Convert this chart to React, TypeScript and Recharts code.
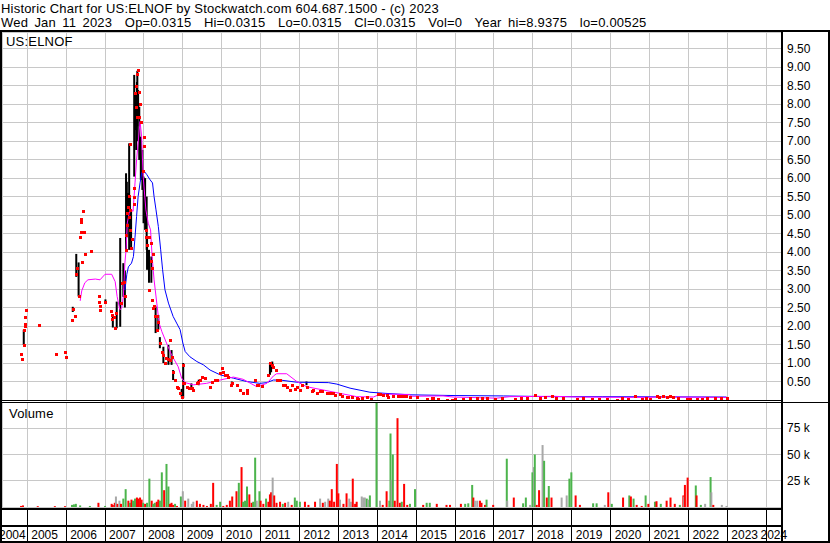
import React from "react";
import { Bar, CartesianGrid, ComposedChart, Line, Scatter, XAxis, YAxis } from "recharts";

const FONT = "'Liberation Sans', Arial, Helvetica, sans-serif";
const X_START = 2004.35;
const X_END = 2024.406;

const titleLine = "Historic Chart for US:ELNOF by Stockwatch.com 604.687.1500 - (c) 2023";
const quoteLine = "Wed Jan 11 2023  Op=0.0315  Hi=0.0315  Lo=0.0315  Cl=0.0315  Vol=0  Year hi=8.9375  lo=0.00525";
const symbolLabel = "US:ELNOF";
const volumeLabel = "Volume";

const yearTicks = [2005, 2006, 2007, 2008, 2009, 2010, 2011, 2012, 2013, 2014, 2015, 2016, 2017, 2018, 2019, 2020, 2021, 2022, 2023, 2024];
const priceTicks = [0.5, 1, 1.5, 2, 2.5, 3, 3.5, 4, 4.5, 5, 5.5, 6, 6.5, 7, 7.5, 8, 8.5, 9, 9.5];
const volumeTicks = [25, 50, 75];

// [time, low, high]
const priceRanges = [
  [2004.91, 1.49, 1.9], [2006.17, 2.38, 2.52], [2006.26, 3.33, 3.95], [2006.32, 2.8, 3.72],
  [2007.01, 2.6, 2.72], [2007.2, 1.96, 2.3], [2007.3, 1.94, 2.66], [2007.39, 1.98, 4.38],
  [2007.47, 2.79, 3.7], [2007.51, 2.5, 3.5], [2007.54, 4.06, 6.13], [2007.56, 4.4, 5.9],
  [2007.59, 4.78, 5.6], [2007.62, 4.06, 6.94], [2007.64, 4.3, 5.5], [2007.67, 4.06, 5.14],
  [2007.75, 6.04, 8.79], [2007.77, 7.3, 8.3], [2007.8, 6.76, 8.03], [2007.82, 7.0, 8.6],
  [2007.83, 7.4, 8.9], [2007.85, 7.66, 8.38], [2007.88, 6.49, 7.93], [2007.92, 5.95, 7.12],
  [2007.96, 5.68, 6.76], [2007.99, 4.78, 6.04], [2008.03, 4.6, 6.0], [2008.07, 4.06, 5.5],
  [2008.08, 3.52, 4.42], [2008.13, 3.17, 4.06], [2008.19, 3.17, 3.88], [2008.3, 1.81, 2.53],
  [2008.37, 1.9, 2.3], [2008.41, 1.4, 1.7], [2008.5, 1.0, 1.44], [2008.63, 0.95, 1.49],
  [2008.71, 0.95, 1.35], [2008.75, 0.54, 0.81], [2008.97, 0.09, 0.3], [2009.01, 0.05, 1.0],
  [2009.22, 0.3, 0.45], [2009.41, 0.4, 0.55], [2010.26, 0.4, 0.5], [2011.24, 0.68, 1.0],
  [2011.27, 0.75, 0.97], [2011.3, 0.86, 1.04], [2012.18, 0.4, 0.5]
];

// [time, close]
const closes = [
  [2004.84, 1.25], [2004.86, 1.12], [2004.91, 1.49], [2004.92, 1.9], [2004.93, 2.06], [2004.94, 2.0],
  [2004.95, 2.25], [2004.97, 2.43], [2005.3, 2.03], [2005.73, 1.25], [2005.96, 1.3], [2005.99, 1.17],
  [2006.14, 2.17], [2006.17, 2.45], [2006.22, 2.27], [2006.26, 3.4], [2006.27, 3.57], [2006.32, 2.8],
  [2006.35, 4.42], [2006.37, 4.55], [2006.37, 4.9], [2006.38, 4.8], [2006.4, 3.74], [2006.42, 5.11],
  [2006.45, 4.54], [2006.48, 3.95], [2006.64, 4.04], [2006.84, 2.8], [2006.85, 2.65], [2006.86, 2.55],
  [2006.87, 2.44], [2007.01, 2.65], [2007.15, 2.4], [2007.17, 2.2], [2007.19, 2.3], [2007.22, 2.25],
  [2007.25, 1.95], [2007.28, 2.35], [2007.4, 2.62], [2007.44, 3.17], [2007.48, 3.2], [2007.51, 2.8],
  [2007.54, 4.06], [2007.55, 4.47], [2007.56, 4.73], [2007.57, 5.05], [2007.59, 5.23], [2007.61, 4.96],
  [2007.62, 5.52], [2007.63, 4.6], [2007.64, 5.14], [2007.65, 6.92], [2007.67, 4.1], [2007.7, 4.35],
  [2007.74, 5.3], [2007.74, 5.5], [2007.75, 5.73], [2007.76, 8.3], [2007.79, 8.49], [2007.8, 7.92],
  [2007.81, 7.66], [2007.82, 8.82], [2007.84, 8.93], [2007.87, 8.34], [2007.88, 7.66], [2007.91, 8.0],
  [2007.92, 7.51], [2007.97, 6.18], [2007.99, 7.12], [2007.99, 6.87], [2008.05, 4.6], [2008.06, 4.42],
  [2008.08, 4.19], [2008.13, 4.42], [2008.13, 2.98], [2008.18, 4.24], [2008.18, 3.77], [2008.21, 3.57],
  [2008.23, 3.95], [2008.23, 2.49], [2008.2, 2.71], [2008.27, 2.53], [2008.29, 2.26], [2008.33, 2.26],
  [2008.34, 1.9], [2008.37, 2.12], [2008.41, 1.54], [2008.46, 1.31], [2008.5, 1.22], [2008.54, 1.0],
  [2008.57, 1.13], [2008.62, 1.1], [2008.67, 1.63], [2008.67, 1.08], [2008.71, 1.17], [2008.75, 0.77],
  [2008.8, 0.54], [2008.84, 0.36], [2008.88, 0.32], [2008.93, 0.18], [2008.97, 0.09], [2009.0, 0.45],
  [2009.01, 0.95], [2009.02, 0.45], [2009.1, 0.36], [2009.16, 0.32], [2009.23, 0.32], [2009.26, 0.27],
  [2009.36, 0.45], [2009.4, 0.5], [2009.44, 0.54], [2009.48, 0.63], [2009.57, 0.59], [2009.7, 0.36],
  [2009.74, 0.5], [2009.83, 0.54], [2009.87, 0.54], [2009.96, 0.74], [2010.0, 0.86], [2010.03, 0.77],
  [2010.08, 0.68], [2010.14, 0.68], [2010.17, 0.63], [2010.23, 0.41], [2010.26, 0.45], [2010.38, 0.41],
  [2010.47, 0.27], [2010.55, 0.18], [2010.64, 0.2], [2010.65, 0.27], [2010.86, 0.54], [2010.91, 0.41],
  [2010.94, 0.41], [2011.03, 0.38], [2011.19, 0.68], [2011.2, 0.68], [2011.24, 1.0], [2011.28, 0.95],
  [2011.33, 0.9], [2011.39, 0.81], [2011.41, 0.54], [2011.5, 0.54], [2011.58, 0.41], [2011.63, 0.41],
  [2011.67, 0.36], [2011.75, 0.27], [2011.8, 0.41], [2011.88, 0.3], [2011.93, 0.35], [2012.01, 0.27],
  [2012.06, 0.41], [2012.18, 0.36], [2012.31, 0.23], [2012.35, 0.27], [2012.45, 0.2], [2012.53, 0.23],
  [2012.57, 0.23], [2012.7, 0.18], [2012.78, 0.18], [2012.87, 0.2], [2012.91, 0.14], [2013.04, 0.16],
  [2013.1, 0.12], [2013.21, 0.09], [2013.25, 0.09], [2013.35, 0.08], [2013.47, 0.05], [2013.51, 0.03],
  [2013.6, 0.06], [2013.73, 0.07], [2013.85, 0.03], [2014.03, 0.16], [2014.07, 0.16], [2014.15, 0.14],
  [2014.24, 0.14], [2014.28, 0.09], [2014.4, 0.12], [2014.54, 0.11], [2014.6, 0.1], [2014.67, 0.11],
  [2014.75, 0.1], [2014.84, 0.09], [2015.01, 0.09], [2015.27, 0.03], [2015.4, 0.05], [2015.44, 0.05],
  [2015.57, 0.03], [2015.78, 0.01], [2015.91, 0.01], [2016.0, 0.04], [2016.21, 0.02], [2016.38, 0.05],
  [2016.56, 0.05], [2016.7, 0.06], [2016.81, 0.05], [2017.03, 0.02], [2017.2, 0.05], [2017.54, 0.03],
  [2017.7, 0.06], [2017.84, 0.05], [2018.06, 0.14], [2018.18, 0.05], [2018.3, 0.07], [2018.48, 0.12],
  [2018.6, 0.06], [2018.78, 0.05], [2019.13, 0.03], [2019.3, 0.05], [2019.51, 0.03], [2019.7, 0.04],
  [2019.9, 0.02], [2020.16, 0.01], [2020.3, 0.05], [2020.45, 0.02], [2020.63, 0.11], [2020.8, 0.03],
  [2020.9, 0.05], [2021.01, 0.03], [2021.18, 0.11], [2021.25, 0.08], [2021.35, 0.11], [2021.45, 0.09],
  [2021.53, 0.11], [2021.6, 0.08], [2021.74, 0.05], [2021.96, 0.03], [2022.05, 0.04], [2022.21, 0.03],
  [2022.35, 0.04], [2022.47, 0.05], [2022.68, 0.05], [2022.85, 0.05], [2022.98, 0.05]
];

// [time, short moving average]
const ma50 = [
  [2006.36, 2.68], [2006.4, 2.95], [2006.48, 3.17], [2006.56, 3.25], [2006.75, 3.27], [2006.87, 3.25],
  [2007.0, 3.4], [2007.17, 3.4], [2007.26, 3.2], [2007.31, 2.8], [2007.38, 2.44], [2007.43, 2.49],
  [2007.47, 2.8], [2007.51, 3.7], [2007.54, 4.06], [2007.57, 4.78], [2007.62, 5.05], [2007.68, 5.14],
  [2007.72, 5.1], [2007.77, 5.87], [2007.81, 6.49], [2007.85, 6.95], [2007.9, 7.53], [2007.94, 7.12],
  [2007.98, 6.04], [2008.05, 5.14], [2008.11, 4.78], [2008.17, 4.6], [2008.21, 3.88], [2008.26, 3.25],
  [2008.33, 2.62], [2008.39, 2.08], [2008.46, 1.85], [2008.58, 1.54], [2008.71, 1.22], [2008.88, 0.9],
  [2008.97, 0.59], [2009.06, 0.47], [2009.27, 0.41], [2009.61, 0.45], [2009.96, 0.54], [2010.3, 0.62],
  [2010.55, 0.56], [2010.9, 0.36], [2011.16, 0.45], [2011.33, 0.65], [2011.41, 0.71], [2011.67, 0.71],
  [2011.93, 0.5], [2012.18, 0.36], [2012.61, 0.27], [2013.04, 0.18], [2013.47, 0.09], [2013.9, 0.08],
  [2014.07, 0.16], [2014.84, 0.15], [2014.88, 0.1], [2015.69, 0.11], [2015.95, 0.08], [2017.07, 0.05],
  [2017.41, 0.09], [2018.52, 0.1], [2019.13, 0.08], [2020.67, 0.07], [2021.53, 0.08], [2022.98, 0.07]
];

// [time, long moving average]
const ma200 = [
  [2007.51, 2.97], [2007.56, 3.4], [2007.6, 3.6], [2007.68, 3.7], [2007.73, 3.88], [2007.77, 4.4],
  [2007.81, 4.96], [2007.85, 5.5], [2007.9, 5.87], [2007.94, 6.13], [2007.98, 6.22], [2008.07, 6.1],
  [2008.16, 5.95], [2008.22, 5.87], [2008.26, 5.5], [2008.31, 5.14], [2008.37, 4.69], [2008.43, 4.06],
  [2008.48, 3.52], [2008.54, 2.98], [2008.63, 2.62], [2008.75, 2.26], [2008.84, 2.08], [2008.93, 1.9],
  [2009.0, 1.54], [2009.06, 1.31], [2009.18, 1.17], [2009.36, 1.04], [2009.53, 0.95], [2009.7, 0.81],
  [2009.96, 0.68], [2010.3, 0.59], [2010.64, 0.5], [2010.98, 0.45], [2011.16, 0.47], [2011.33, 0.54],
  [2011.5, 0.54], [2011.93, 0.48], [2012.74, 0.47], [2012.96, 0.43], [2013.3, 0.32], [2013.81, 0.21],
  [2014.2, 0.18], [2014.84, 0.14], [2016.0, 0.12], [2017.24, 0.11], [2018.52, 0.09], [2019.8, 0.09],
  [2022.98, 0.08]
];

// [time, volume in thousands, u = up day, d = down day, n = unchanged]
const volumes = [
  [2004.84, 1, "d"], [2004.89, 1.5, "d"], [2005.27, 0.8, "d"], [2005.71, 0.8, "d"], [2005.97, 0.8, "d"],
  [2006.15, 2, "u"], [2006.2, 2.5, "u"], [2006.25, 3, "u"], [2006.36, 1.5, "u"], [2006.61, 1, "u"],
  [2006.83, 4, "d"], [2007.0, 1, "u"], [2007.17, 3, "d"], [2007.2, 2, "d"], [2007.25, 4, "d"],
  [2007.28, 10, "n"], [2007.32, 3, "d"], [2007.37, 6, "n"], [2007.41, 3, "d"], [2007.47, 8, "u"],
  [2007.53, 17, "u"], [2007.6, 6, "d"], [2007.64, 4, "u"], [2007.68, 7, "d"], [2007.72, 6, "u"],
  [2007.77, 8, "u"], [2007.82, 9, "d"], [2007.85, 8, "d"], [2007.9, 9, "d"], [2007.94, 7, "d"],
  [2007.98, 4, "u"], [2008.03, 3, "d"], [2008.08, 4, "u"], [2008.14, 27, "u"], [2008.2, 6, "d"],
  [2008.24, 3, "u"], [2008.28, 4, "u"], [2008.33, 5, "d"], [2008.37, 7, "d"], [2008.41, 6, "u"],
  [2008.46, 33, "u"], [2008.52, 16, "d"], [2008.58, 41, "u"], [2008.63, 19.5, "u"], [2008.67, 3, "d"],
  [2008.71, 4, "d"], [2008.75, 2, "d"], [2008.8, 3, "u"], [2008.85, 1, "d"], [2008.95, 10, "u"],
  [2009.0, 15, "n"], [2009.06, 6, "d"], [2009.14, 8, "n"], [2009.23, 3, "n"], [2009.27, 5, "n"],
  [2009.36, 6, "d"], [2009.44, 3, "d"], [2009.53, 2, "d"], [2009.62, 1, "d"], [2009.72, 3, "d"],
  [2009.78, 23, "d"], [2009.87, 2, "u"], [2009.96, 5, "u"], [2010.04, 1, "d"], [2010.13, 2, "d"],
  [2010.21, 6, "d"], [2010.27, 10, "d"], [2010.38, 15, "d"], [2010.44, 23, "u"], [2010.51, 38, "d"],
  [2010.55, 5, "u"], [2010.6, 6, "u"], [2010.65, 19.5, "u"], [2010.71, 12, "d"], [2010.77, 4, "d"],
  [2010.81, 5, "u"], [2010.86, 47, "u"], [2010.9, 6, "n"], [2010.97, 15, "u"], [2011.0, 6, "d"],
  [2011.07, 3, "d"], [2011.14, 8, "u"], [2011.2, 5, "d"], [2011.24, 12, "d"], [2011.27, 14, "d"],
  [2011.31, 28, "n"], [2011.35, 11, "d"], [2011.41, 4, "d"], [2011.5, 5, "d"], [2011.57, 3, "u"],
  [2011.63, 4, "d"], [2011.71, 5, "n"], [2011.8, 2, "d"], [2011.88, 9, "u"], [2011.93, 6, "u"],
  [2012.01, 5, "u"], [2012.14, 5, "d"], [2012.23, 2, "d"], [2012.4, 5, "d"], [2012.53, 8, "n"],
  [2012.6, 4, "d"], [2012.66, 5, "n"], [2012.74, 8, "n"], [2012.78, 6, "d"], [2012.83, 17, "d"],
  [2012.89, 5, "d"], [2012.96, 41, "d"], [2013.0, 13, "d"], [2013.04, 7, "n"], [2013.13, 3, "d"],
  [2013.21, 13, "d"], [2013.28, 8, "n"], [2013.32, 5, "n"], [2013.37, 27, "d"], [2013.43, 3, "d"],
  [2013.47, 5, "d"], [2013.6, 10, "n"], [2013.64, 9, "n"], [2013.68, 9, "n"], [2013.73, 8, "u"],
  [2013.77, 7, "n"], [2013.81, 11, "u"], [2013.98, 110, "u"], [2014.07, 6, "n"], [2014.14, 2, "d"],
  [2014.24, 15, "d"], [2014.31, 6, "u"], [2014.34, 70, "u"], [2014.37, 26, "n"], [2014.4, 50, "u"],
  [2014.45, 6, "d"], [2014.52, 84.6, "d"], [2014.58, 4, "d"], [2014.63, 5, "u"], [2014.69, 22, "d"],
  [2014.77, 2, "d"], [2014.84, 3, "u"], [2014.97, 17, "u"], [2015.18, 2, "d"], [2015.27, 4, "u"],
  [2015.35, 4, "u"], [2015.53, 3, "d"], [2015.78, 2, "d"], [2015.87, 2, "d"], [2016.15, 3, "d"],
  [2016.26, 3, "u"], [2016.34, 3.5, "u"], [2016.44, 21, "u"], [2016.47, 9, "d"], [2016.51, 6, "n"],
  [2016.57, 6, "n"], [2016.64, 6, "d"], [2016.68, 4, "d"], [2016.77, 2, "d"], [2016.81, 7, "u"],
  [2016.98, 2, "d"], [2017.33, 46, "u"], [2017.34, 6, "n"], [2017.51, 9, "d"], [2017.75, 3.5, "u"],
  [2017.82, 9, "u"], [2017.93, 2, "n"], [2017.99, 33, "u"], [2018.03, 38, "n"], [2018.05, 50, "u"],
  [2018.1, 2, "d"], [2018.16, 16, "d"], [2018.25, 59, "n"], [2018.29, 44, "u"], [2018.36, 9, "d"],
  [2018.41, 20, "u"], [2018.48, 9, "d"], [2018.74, 9, "n"], [2018.87, 11, "n"], [2018.94, 27, "u"],
  [2018.99, 33, "u"], [2019.1, 11, "d"], [2019.21, 2, "d"], [2019.55, 3.5, "u"], [2019.64, 3.5, "u"],
  [2019.85, 2, "n"], [2019.94, 14, "d"], [2020.03, 3, "u"], [2020.32, 9, "d"], [2020.48, 11, "u"],
  [2020.52, 10, "d"], [2020.59, 8, "u"], [2020.67, 2, "d"], [2020.8, 1, "d"], [2020.9, 11, "u"],
  [2020.97, 3, "d"], [2021.14, 5, "u"], [2021.18, 5.5, "d"], [2021.29, 3, "u"], [2021.44, 6, "d"],
  [2021.54, 9, "d"], [2021.65, 3, "d"], [2021.78, 2, "u"], [2021.87, 11, "d"], [2021.89, 10, "n"],
  [2021.91, 21, "d"], [2021.98, 28, "d"], [2022.19, 20.5, "u"], [2022.21, 11, "d"], [2022.32, 2, "u"],
  [2022.43, 3, "n"], [2022.57, 28.5, "u"], [2022.59, 14, "n"], [2022.64, 2, "d"], [2022.86, 2, "n"],
  [2022.98, 1, "n"]
];

const volumeColors: Record<string, string> = { u: "#4cb44c", d: "#ff0000", n: "#a8a8a8" };

const priceRows = priceRanges.map(([t, lo, hi]) => ({ t, hl: [lo, hi] }));
const closeRows = closes.map(([t, c]) => ({ t, c }));
const ma50Rows = ma50.map(([t, v]) => ({ t, v }));
const ma200Rows = ma200.map(([t, v]) => ({ t, v }));
const volumeRows = volumes.map(([t, v, d]) => ({ t, v, d }));

const textStyle = { fontFamily: FONT, fontSize: 12, fill: "#000" };
const headerStyle = { fontFamily: FONT, fontSize: 13, fill: "#000", letterSpacing: 0.2 };

function RangeBar(props: any) {
  const { x, y, width, height } = props;
  if (x == null || y == null) return null;
  const top = Math.min(y, y + height);
  return <rect x={x + width / 2 - 1} y={top} width={2} height={Math.max(Math.abs(height), 1)} fill="#000" />;
}

function VolumeBar(props: any) {
  const { x, y, width, height, payload } = props;
  if (x == null || y == null) return null;
  const top = Math.min(y, y + height);
  return (
    <rect
      x={x + width / 2 - 1}
      y={top}
      width={2}
      height={Math.max(Math.abs(height), 1)}
      fill={volumeColors[payload.d]}
    />
  );
}

function CloseDot(props: any) {
  const { cx, cy } = props;
  if (cx == null || cy == null || isNaN(cy)) return null;
  return <rect x={Math.round(cx) - 1} y={Math.round(cy) - 1} width={3} height={3} fill="#ff0000" />;
}

function PriceTick(props: any) {
  const { x, y, payload } = props;
  return (
    <text x={x} y={y + 4} textAnchor="start" style={textStyle}>
      {payload.value.toFixed(2)}
    </text>
  );
}

function VolumeTick(props: any) {
  const { x, y, payload } = props;
  return (
    <text x={x} y={y + 4} textAnchor="start" style={textStyle}>
      {`${payload.value} k`}
    </text>
  );
}

function YearTick(props: any) {
  const { x, y, payload } = props;
  const first = payload.value < yearTicks[0];
  const last = payload.value === yearTicks[yearTicks.length - 1];
  return (
    <g>
      {!first && <line x1={x} x2={x} y1={y + 3} y2={y + 34} stroke="#000" strokeWidth={1} shapeRendering="crispEdges" />}
      <text
        x={first ? x - 3 : last ? x + 21 : x + 4}
        y={y + 32}
        textAnchor={last ? "end" : "start"}
        style={textStyle}
      >
        {Math.floor(payload.value)}
      </text>
    </g>
  );
}

export default function App() {
  return (
    <div
      style={{
        position: "absolute",
        left: 0,
        top: 0,
        width: 830,
        height: 543,
        background: "#fff",
        overflow: "hidden",
        fontFamily: FONT
      }}
    >
      <div style={{ position: "absolute", left: 0, top: 0 }}>
        <ComposedChart width={830} height={402} data={priceRows} margin={{ top: 32, right: 0, bottom: 2, left: 2 }}>
          <CartesianGrid stroke="#c8c8c8" shapeRendering="crispEdges" />
          <XAxis type="number" dataKey="t" domain={[X_START, X_END]} ticks={yearTicks} allowDataOverflow hide />
          <YAxis
            orientation="right"
            width={48}
            domain={[0, 9.95]}
            ticks={priceTicks}
            interval={0}
            allowDataOverflow
            axisLine={false}
            tickLine={false}
            tickSize={0}
            tickMargin={5}
            tick={<PriceTick />}
          />
          <Bar dataKey="hl" barSize={2} shape={<RangeBar />} isAnimationActive={false} />
          <Line data={ma200Rows} dataKey="v" stroke="#0000ff" strokeWidth={1} dot={false} isAnimationActive={false} />
          <Line data={ma50Rows} dataKey="v" stroke="#ff00ff" strokeWidth={1} dot={false} isAnimationActive={false} />
          <Scatter data={closeRows} dataKey="c" shape={<CloseDot />} isAnimationActive={false} />
        </ComposedChart>
      </div>

      <div style={{ position: "absolute", left: 0, top: 402 }}>
        <ComposedChart width={830} height={141} data={volumeRows} margin={{ top: 0, right: 0, bottom: 0, left: 2 }}>
          <CartesianGrid stroke="#c8c8c8" shapeRendering="crispEdges" />
          <XAxis
            type="number"
            dataKey="t"
            domain={[X_START, X_END]}
            ticks={[X_START, ...yearTicks]}
            interval={0}
            allowDataOverflow
            height={36}
            axisLine={false}
            tickLine={false}
            tickSize={0}
            tickMargin={0}
            tick={<YearTick />}
          />
          <YAxis
            orientation="right"
            width={48}
            domain={[0, 100]}
            ticks={volumeTicks}
            interval={0}
            allowDataOverflow
            axisLine={false}
            tickLine={false}
            tickSize={0}
            tickMargin={5}
            tick={<VolumeTick />}
          />
          <Bar dataKey="v" barSize={2} shape={<VolumeBar />} isAnimationActive={false} />
        </ComposedChart>
      </div>

      <svg width={830} height={543} style={{ position: "absolute", left: 0, top: 0, pointerEvents: "none" }}>
        <text x={1} y={13} style={headerStyle}>{titleLine}</text>
        <text x={1} y={26.5} xmlSpace="preserve" style={{ ...headerStyle, whiteSpace: "pre", wordSpacing: 2.5 }}>
          {quoteLine}
        </text>
        <text x={6} y={46} style={headerStyle}>{symbolLabel}</text>
        <text x={9} y={418} style={headerStyle}>{volumeLabel}</text>
        <g fill="#000" shapeRendering="crispEdges">
          <rect x={0} y={30} width={830} height={2} />
          <rect x={0} y={30} width={2} height={513} />
          <rect x={781} y={30} width={2} height={513} />
          <rect x={828} y={30} width={2} height={513} />
          <rect x={0} y={400} width={782} height={1} />
          <rect x={0} y={402} width={830} height={1} />
          <rect x={0} y={508} width={782} height={2} />
          <rect x={0} y={525} width={782} height={2} />
          <rect x={0} y={541} width={830} height={2} />
        </g>
      </svg>
    </div>
  );
}
